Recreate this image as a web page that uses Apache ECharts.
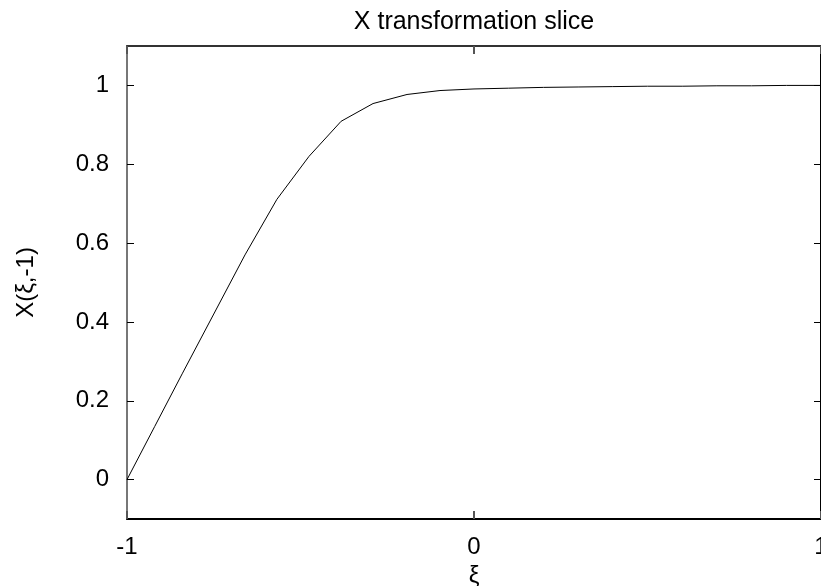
<!DOCTYPE html>
<html>
<head>
<meta charset="utf-8">
<script src="https://cdn.jsdelivr.net/npm/echarts@6/dist/echarts.min.js"></script>
<style>html,body{margin:0;padding:0;background:#fff}#c{width:821px;height:586px}</style>
</head>
<body>
<div id="c"></div>
<script>
const xValues = [-1, -0.92, -0.84, -0.75, -0.66, -0.568, -0.4755, -0.383, -0.291, -0.193, -0.098, 0, 0.1, 0.2, 0.3, 0.4, 0.5, 0.6, 0.7, 0.8, 0.9, 1];
const yValues = [0, 0.135, 0.27, 0.42, 0.57, 0.711, 0.82, 0.909, 0.954, 0.977, 0.987, 0.991, 0.993, 0.995, 0.996, 0.997, 0.998, 0.998, 0.999, 0.999, 1.0, 1.0];
const yTicks = [0, 0.2, 0.4, 0.6, 0.8, 1];
const titleText = 'X transformation slice';
const xName = 'ξ';
const yName = 'X(ξ,-1)';

const font = '"Liberation Sans", Arial, sans-serif';
const chart = echarts.init(document.getElementById('c'), null, {renderer: 'canvas'});
chart.setOption({
  animation: false,
  title: {
    text: titleText, left: 474, top: 10, padding: 0, textAlign: 'center',
    textStyle: {fontFamily: font, fontSize: 25, fontWeight: 'normal', color: '#000'}
  },
  grid: {left: 127, top: 46, width: 694, height: 473, containLabel: false, outerBoundsMode: 'none'},
  xAxis: [{
    type: 'value', min: -1, max: 1, interval: 1, position: 'bottom',
    name: xName, nameLocation: 'middle', nameGap: 39,
    nameTextStyle: {fontFamily: font, fontSize: 24, color: '#000'},
    axisLine: {show: true, onZero: false, lineStyle: {color: '#000', width: 2}},
    axisTick: {show: true, inside: true, length: 8, lineStyle: {color: '#555', width: 2}},
    axisLabel: {fontFamily: font, fontSize: 24, color: '#000', margin: 16},
    splitLine: {show: false}
  }, {
    type: 'value', min: -1, max: 1, interval: 1, position: 'top',
    axisLine: {show: true, onZero: false, lineStyle: {color: '#333', width: 2}},
    axisTick: {show: true, inside: true, length: 8, lineStyle: {color: '#555', width: 2}},
    axisLabel: {show: false}, splitLine: {show: false}
  }],
  yAxis: [{
    type: 'value', min: -0.1, max: 1.1, position: 'left',
    name: yName, nameLocation: 'middle', nameGap: 89,
    nameTextStyle: {fontFamily: font, fontSize: 24, color: '#000'},
    axisLine: {show: true, onZero: false, lineStyle: {color: '#777', width: 2}},
    axisTick: {show: true, inside: true, length: 7, customValues: yTicks, lineStyle: {color: '#000', width: 1}},
    axisLabel: {fontFamily: font, fontSize: 24, color: '#000', margin: 18, customValues: yTicks},
    splitLine: {show: false}
  }, {
    type: 'value', min: -0.1, max: 1.1, position: 'right',
    axisLine: {show: true, onZero: false, lineStyle: {color: '#000', width: 2}},
    axisTick: {show: true, inside: true, length: 7, customValues: yTicks, lineStyle: {color: '#000', width: 1}},
    axisLabel: {show: false}, splitLine: {show: false}
  }],
  series: [{
    type: 'line', xAxisIndex: 0, yAxisIndex: 0,
    data: xValues.map((x, i) => [x, yValues[i]]),
    showSymbol: false, symbol: 'none',
    lineStyle: {color: '#000', width: 1}
  }]
});
</script>
</body>
</html>
